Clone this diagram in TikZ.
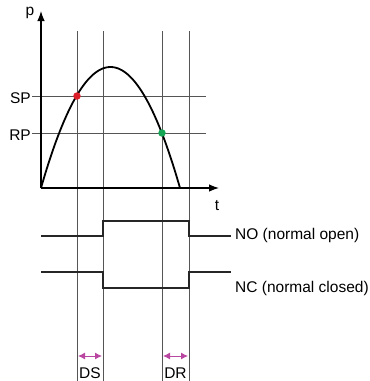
\documentclass[tikz,border=0pt]{standalone}
\usepackage{fontspec}
\setmainfont{Liberation Sans}
\usepackage{tikz}
\usetikzlibrary{positioning}
\usetikzlibrary{arrows.meta}
\definecolor{gridgray}{RGB}{85,85,85}
\definecolor{spred}{RGB}{220,30,40}
\definecolor{rpgreen}{RGB}{20,165,85}
\definecolor{delaymag}{RGB}{185,70,160}
\tikzset{
  gridline/.style={gridgray,line width=0.9pt},
  signal/.style={black!85,line width=1.8pt},
  lbl/.style={font=\fontsize{15.5}{18}\selectfont,inner sep=0pt},
  delay/.style={delaymag,line width=1pt,{Latex[length=7pt,width=7pt]}-{Latex[length=7pt,width=7pt]}},
  pt/.style={circle,inner sep=0pt,minimum size=7.5pt}
}

\begin{document}
\begin{tikzpicture}[x=1pt,y=-1pt]
\useasboundingbox (0,0) rectangle (370,381);

% time marks
\foreach \xx/\nm in {77/a,103/b,162/c,189/d}{
  \coordinate (top\nm) at (\xx,31);
  \coordinate (bot\nm) at (\xx,381);
  \draw[gridline] (top\nm) -- (bot\nm);
}

% levels
\coordinate (sp0) at (32,96); \coordinate (sp1) at (206,96);
\coordinate (rp0) at (32,133); \coordinate (rp1) at (206,133);
\draw[gridline] (sp0) -- (sp1);
\draw[gridline] (rp0) -- (rp1);
\node[lbl,anchor=base east] (SP) at (31,103) {SP};
\node[lbl,anchor=base east] (RP) at (31,140) {RP};

% axes
\coordinate (O) at (41,188);
\coordinate (pend) at (41,11);
\coordinate (tend) at (219,188);
\draw[black,line width=1.2pt,-{Latex[length=10pt,width=7.5pt]}] (O) -- (pend);
\draw[black,line width=1.2pt,-{Latex[length=10pt,width=7.5pt]}] (O) -- (tend);
\node[lbl] (p) at (30,13) {p};
\node[lbl] (t) at (217,206) {t};

% pressure curve
\draw[black,line width=1.8pt] plot[domain=41:180,samples=80,smooth]
  (\x,{188-121*(1-((\x-110.5)/69.5)^2)});
\node[pt,fill=spred] (S) at (77,96) {};
\node[pt,fill=rpgreen] (R) at (162,133) {};

% contacts
\draw[signal] (41,236) -- (103,236) -- (103,221) -- (189,221) -- (189,236) -- (231,236);
\draw[signal] (41,272) -- (103,272) -- (103,288) -- (189,288) -- (189,272) -- (231,272);
\node[lbl,anchor=base west] (NO) at (235,239) {NO (normal open)};
\node[lbl,anchor=base west] (NC) at (235,292) {NC (normal closed)};

% delays
\coordinate (ds0) at (78,356); \coordinate (ds1) at (102,356);
\coordinate (dr0) at (163,356); \coordinate (dr1) at (188,356);
\draw[delay] (ds0) -- (ds1);
\draw[delay] (dr0) -- (dr1);
\node[lbl,anchor=base] (DS) at (90,378) {DS};
\node[lbl,anchor=base] (DR) at (175.5,378) {DR};
\end{tikzpicture}
\end{document}
